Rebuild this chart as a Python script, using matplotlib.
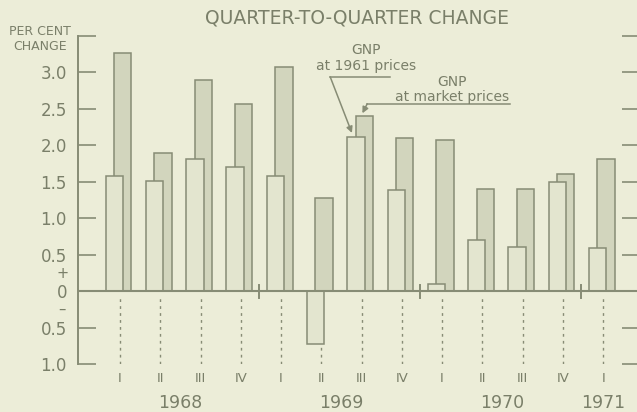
import matplotlib
matplotlib.use("Agg")
import matplotlib.pyplot as plt
import numpy as np

# ---- data ----
quarters = ['I', 'II', 'III', 'IV', 'I', 'II', 'III', 'IV', 'I', 'II', 'III', 'IV', 'I']
years = ['1968', '1969', '1970', '1971']
quarters_per_year = [4, 4, 4, 1]
gnp_1961 = [1.58, 1.51, 1.81, 1.70, 1.58, -0.72, 2.12, 1.39, 0.10, 0.70, 0.60, 1.50, 0.59]
gnp_market = [3.27, 1.90, 2.89, 2.57, 3.08, 1.28, 2.40, 2.10, 2.07, 1.40, 1.40, 1.60, 1.81]
ytick_vals = [3.5, 3.0, 2.5, 2.0, 1.5, 1.0, 0.5, 0.0, -0.5, -1.0]
ytick_labels = ['', '3.0', '2.5', '2.0', '1.5', '1.0', '0.5', '0', '0.5', '1.0']

BG = '#ecedd8'
EDGE = '#878c75'
TXT = '#7a7f69'
FILL_MKT = '#d2d5bd'
FILL_61 = '#e3e5cf'

W, H = 637, 412
fig = plt.figure(figsize=(W / 100, H / 100), dpi=100, facecolor=BG)
ax_l, ax_r = 78 / W, 1.0
ax_b, ax_t = (H - 364) / H, (H - 36) / H
ax = fig.add_axes([ax_l, ax_b, ax_r - ax_l, ax_t - ax_b], facecolor=BG)

x = np.arange(len(quarters))
bw = 0.43
ax.bar(x + 0.07, gnp_market, width=bw, color=FILL_MKT, edgecolor=EDGE, linewidth=1.1, zorder=2)
ax.bar(x - 0.14, gnp_1961, width=bw, color=FILL_61, edgecolor=EDGE, linewidth=1.1, zorder=3)

ax.set_xlim(-1.043, 12.84)
ax.set_ylim(-1.0, 3.5)

# zero line
ax.axhline(0, color=EDGE, linewidth=1.5, zorder=4)
# dashed quarter guide lines
ax.vlines(x, -1.0, -0.05, colors=EDGE, linestyles=(0, (2, 3)), linewidth=1.0, zorder=1)
# year separator ticks
ystarts = np.cumsum([0] + quarters_per_year[:-1])
for s in ystarts[1:]:
    ax.plot([s - 0.55, s - 0.55], [-0.09, 0.08], color=EDGE, linewidth=1.4, zorder=5)

# spines and ticks
for sp in ['top', 'right', 'bottom']:
    ax.spines[sp].set_visible(False)
ax.spines['left'].set_color(EDGE)
ax.spines['left'].set_linewidth(1.4)
ax.set_xticks([])
ax.set_yticks(ytick_vals)
ax.set_yticklabels(ytick_labels)
ax.tick_params(axis='y', direction='in', length=13, width=1.2, color=EDGE,
               labelcolor=TXT, labelsize=12, pad=8)

axr = ax.twinx()
axr.set_ylim(ax.get_ylim())
for sp in ['top', 'right', 'bottom', 'left']:
    axr.spines[sp].set_visible(False)
axr.set_yticks([v for v in ytick_vals if v != 0])
axr.set_yticklabels([])
axr.tick_params(axis='y', direction='in', length=11, width=1.2, color=EDGE)

# + / - signs
ax.text(-1.0 - 0.43, 0.245, '+', ha='center', va='center', fontsize=10.5, color=TXT, clip_on=False)
ax.text(-1.0 - 0.43, -0.245, '\u2013', ha='center', va='center', fontsize=10.5, color=TXT, clip_on=False)

# quarter labels and year labels
for xi, q in zip(x, quarters):
    ax.text(xi, -1.2, q, ha='center', va='center', fontsize=9.5, color=TXT, clip_on=False)
for s, n, yr in zip(ystarts, quarters_per_year, years):
    ax.text(s + (n - 1) / 2, -1.53, yr, ha='center', va='center', fontsize=12.5,
            color=TXT, clip_on=False)

# titles
fig.text(357 / W, 1 - 18 / H, 'QUARTER-TO-QUARTER CHANGE', ha='center', va='center',
         fontsize=13.5, color=TXT)
fig.text(40 / W, 1 - 39 / H, 'PER CENT\nCHANGE', ha='center', va='center',
         fontsize=9, color=TXT, linespacing=1.2)

# annotations
i = 6
ax.text(6.11, 3.2, 'GNP\nat 1961 prices', ha='center', va='center', fontsize=10,
        color=TXT, linespacing=1.2)
ax.plot([6.71, 5.22], [2.94, 2.94], color=EDGE, linewidth=1.1)
ax.annotate('', xy=(i - 0.14 - 0.1, gnp_1961[i] + 0.05), xytext=(5.22, 2.94),
            arrowprops=dict(arrowstyle='-|>', color=EDGE, lw=1.1, mutation_scale=9,
                            shrinkA=0, shrinkB=0))
ax.text(8.25, 2.77, 'GNP\nat market prices', ha='center', va='center', fontsize=10,
        color=TXT, linespacing=1.1)
ax.plot([9.69, 6.14], [2.57, 2.57], color=EDGE, linewidth=1.1)
ax.annotate('', xy=(i + 0.07 - 0.05, gnp_market[i] + 0.04), xytext=(6.14, 2.57),
            arrowprops=dict(arrowstyle='-|>', color=EDGE, lw=1.1, mutation_scale=9,
                            shrinkA=0, shrinkB=0))

fig.savefig('out.png', dpi=100, facecolor=BG)
